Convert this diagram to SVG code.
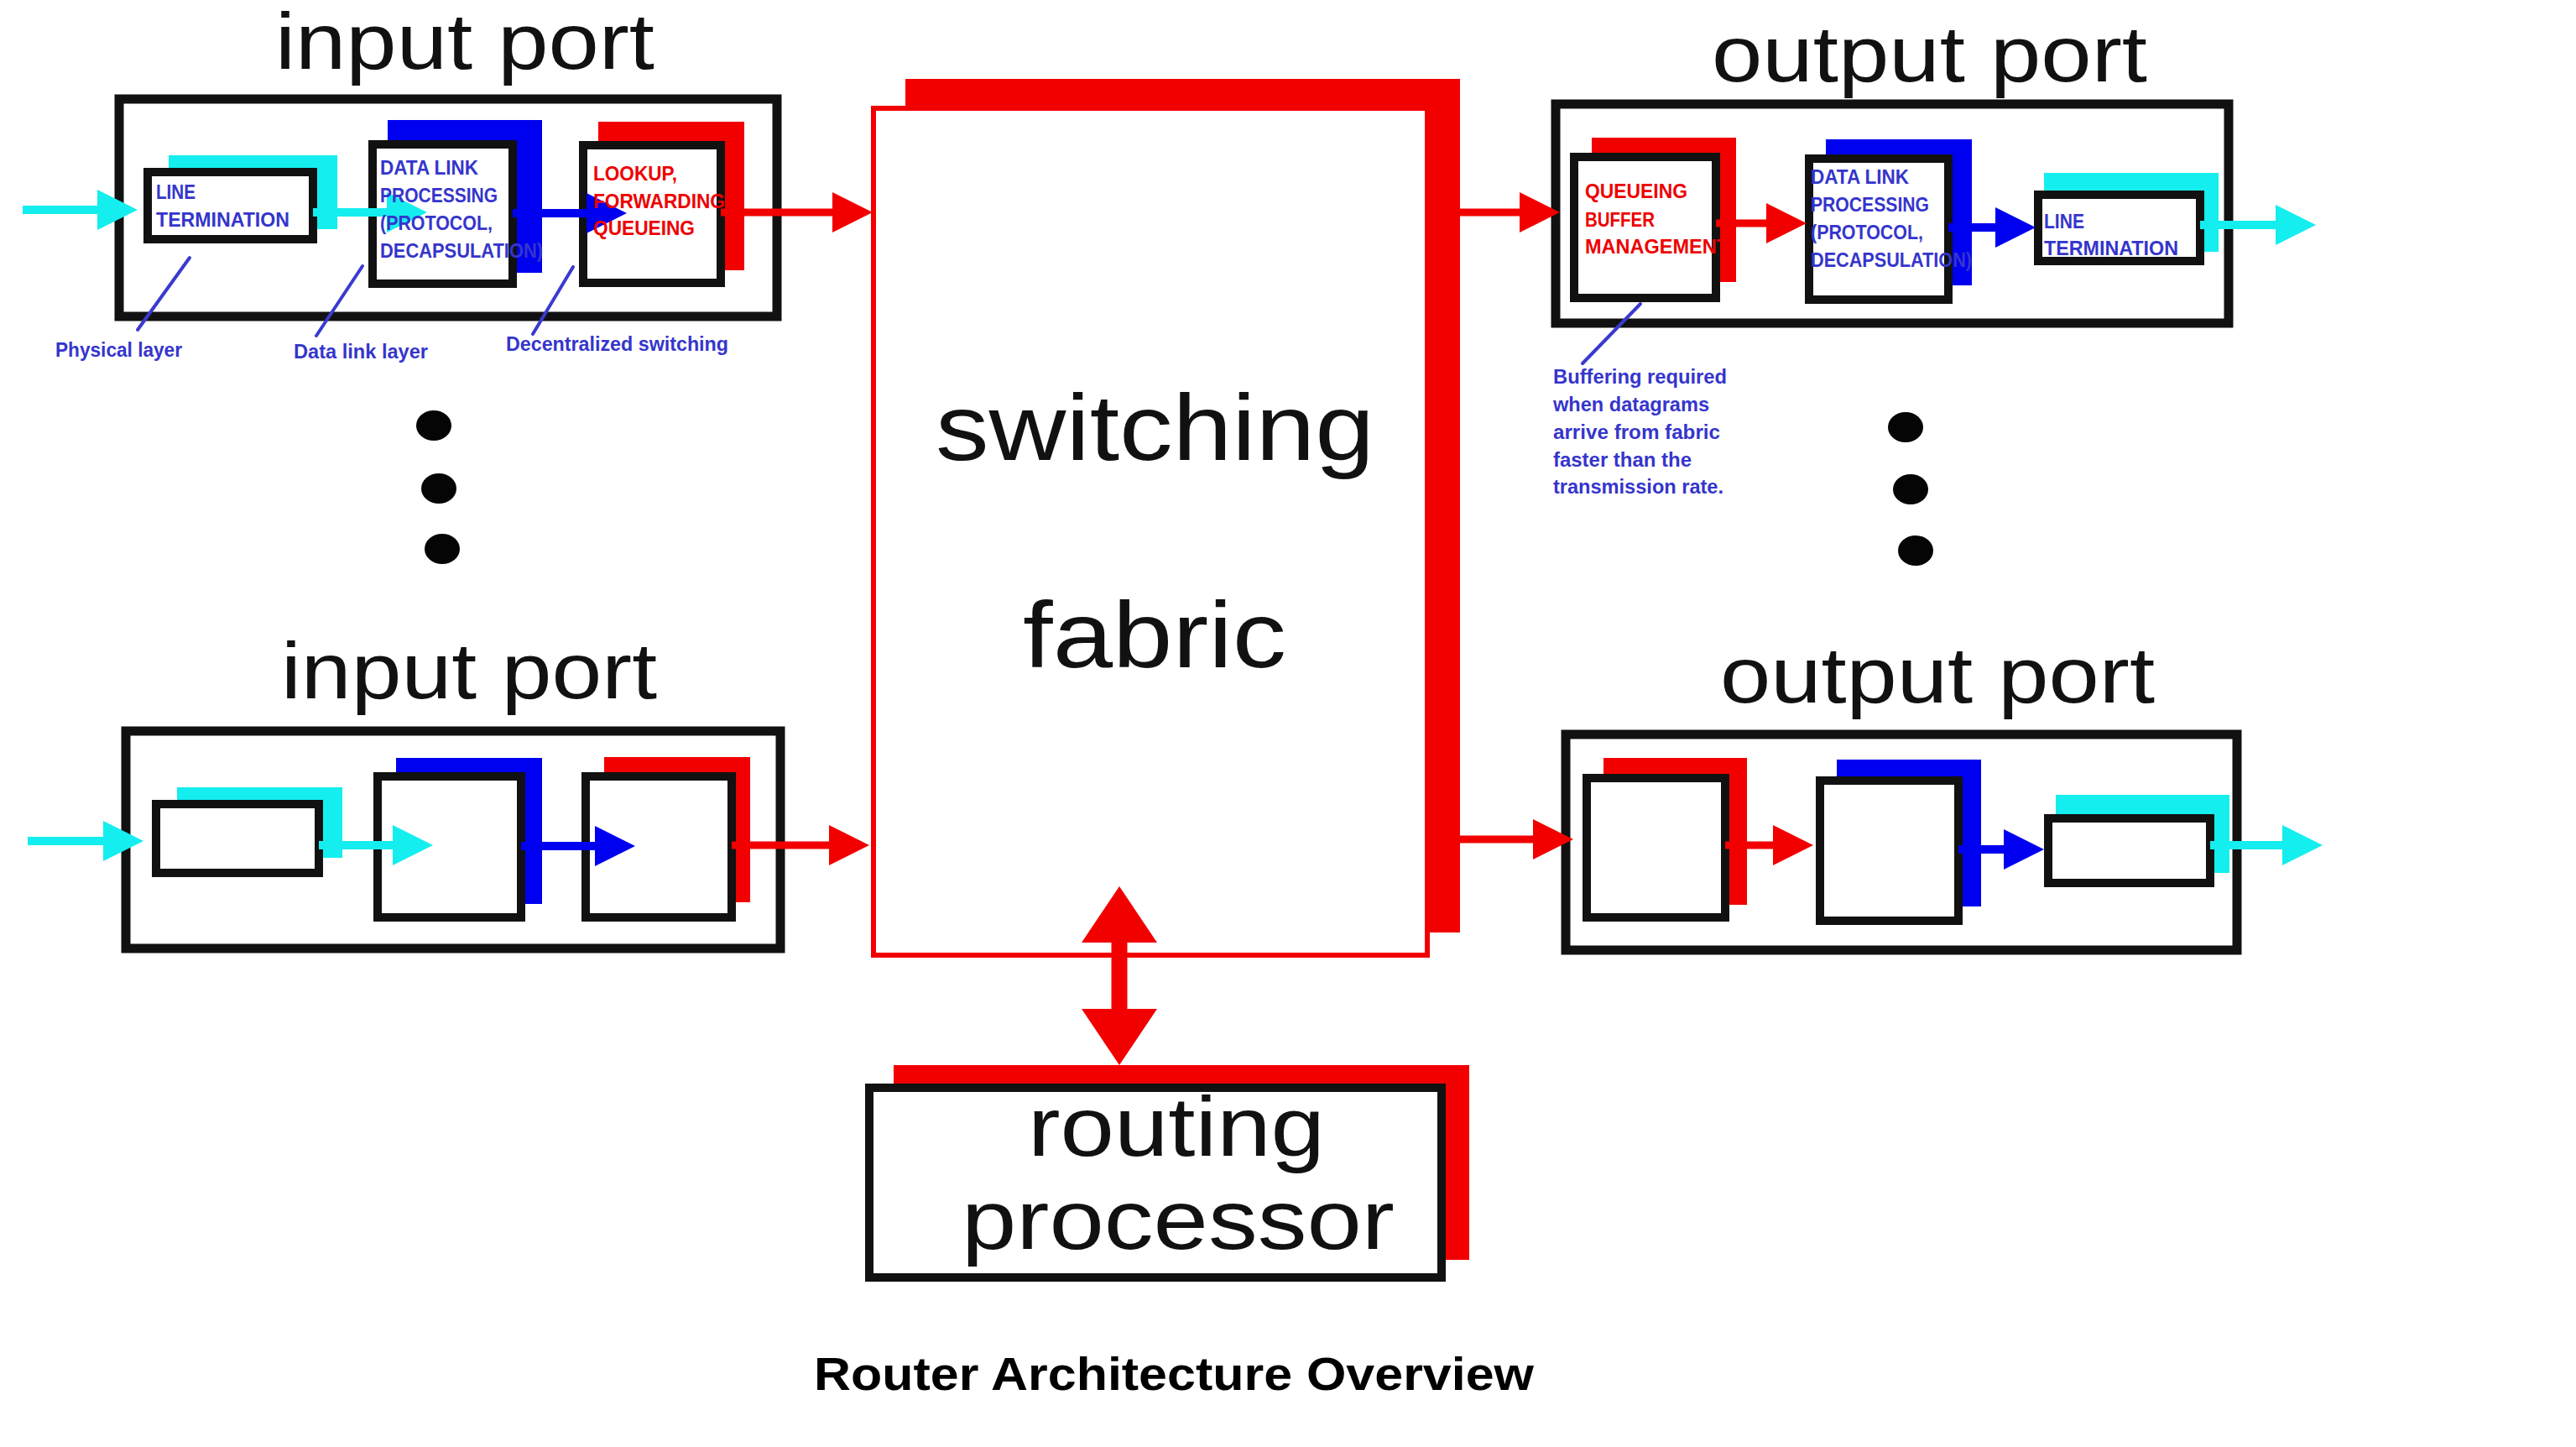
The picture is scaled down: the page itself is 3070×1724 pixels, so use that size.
<svg xmlns="http://www.w3.org/2000/svg" width="3070" height="1724" viewBox="0 0 3070 1724">
<style>
.bg{fill:#ffffff}
.box{fill:#ffffff;stroke:#111111;stroke-width:10}
.outer{fill:#ffffff;stroke:#111111;stroke-width:11}
.sh-c{fill:#14eeee}
.sh-b{fill:#0000f0}
.sh-r{fill:#f20000}
.big{font-family:"Liberation Sans",Arial,sans-serif;fill:#111111}
.lbl{font-family:"Liberation Sans",Arial,sans-serif;font-weight:bold;font-size:23px}
.lb{fill:#3535cc}
.lr{fill:#ee0000}
.ann{stroke:#3a3ad0;stroke-width:4;fill:none;stroke-linecap:round}
.ac{stroke:#14eeee;stroke-width:10;fill:none}
.ab{stroke:#0000f0;stroke-width:10;fill:none}
.ar{stroke:#f20000;stroke-width:9;fill:none}
.dot{fill:#050505}
.title{font-family:"Liberation Sans",Arial,sans-serif;font-weight:bold;font-size:56px;fill:#000000}
</style>
<defs>
<marker id="hc" markerUnits="userSpaceOnUse" viewBox="0 0 48 48" refX="0" refY="24" markerWidth="48" markerHeight="48" orient="auto"><path d="M0,0 L48,24 L0,48 z" fill="#14eeee"/></marker>
<marker id="hb" markerUnits="userSpaceOnUse" viewBox="0 0 48 48" refX="0" refY="24" markerWidth="48" markerHeight="48" orient="auto"><path d="M0,0 L48,24 L0,48 z" fill="#0000f0"/></marker>
<marker id="hr" markerUnits="userSpaceOnUse" viewBox="0 0 48 48" refX="0" refY="24" markerWidth="48" markerHeight="48" orient="auto"><path d="M0,0 L48,24 L0,48 z" fill="#f20000"/></marker>
<marker id="hbig" markerUnits="userSpaceOnUse" viewBox="0 0 67 90" refX="0" refY="45" markerWidth="67" markerHeight="90" orient="auto-start-reverse"><path d="M0,0 L67,45 L0,90 z" fill="#f20000"/></marker>
</defs>
<rect class="bg" x="0" y="0" width="3070" height="1724"/>

<!-- input port (top) -->
<g id="input-port-1">
<text class="big" x="328" y="82" font-size="94" textLength="452" lengthAdjust="spacingAndGlyphs">input port</text>
<rect class="outer" x="142" y="118" width="784" height="259"/>
<g id="in1-line-termination"><rect class="sh-c" x="201" y="185" width="201" height="88"/><rect class="box" x="176" y="205" width="197" height="80"/></g>
<g id="in1-data-link"><rect class="sh-b" x="462" y="143" width="184" height="182"/><rect class="box" x="444" y="172" width="167" height="166"/></g>
<g id="in1-lookup"><rect class="sh-r" x="713" y="145" width="174" height="177"/><rect class="box" x="695" y="173" width="164" height="164"/></g>
</g>

<!-- input port (bottom) -->
<g id="input-port-2">
<text class="big" x="335" y="832" font-size="94" textLength="448" lengthAdjust="spacingAndGlyphs">input port</text>
<rect class="outer" x="150" y="871" width="780" height="259"/>
<g id="in2-line-termination"><rect class="sh-c" x="211" y="938" width="197" height="84"/><rect class="box" x="186" y="958" width="194" height="82"/></g>
<g id="in2-data-link"><rect class="sh-b" x="472" y="903" width="174" height="174"/><rect class="box" x="450" y="925" width="171" height="168"/></g>
<g id="in2-lookup"><rect class="sh-r" x="720" y="902" width="174" height="173"/><rect class="box" x="698" y="925" width="174" height="168"/></g>
</g>

<!-- output port (top) -->
<g id="output-port-1">
<text class="big" x="2040" y="97" font-size="94" textLength="519" lengthAdjust="spacingAndGlyphs">output port</text>
<rect class="outer" x="1854" y="124" width="802" height="261"/>
<g id="out1-queueing"><rect class="sh-r" x="1897" y="164" width="172" height="172"/><rect class="box" x="1876" y="187" width="169" height="168"/></g>
<g id="out1-data-link"><rect class="sh-b" x="2176" y="166" width="174" height="174"/><rect class="box" x="2156" y="189" width="166" height="168"/></g>
<g id="out1-line-termination"><rect class="sh-c" x="2436" y="206" width="208" height="94"/><rect class="box" x="2429" y="232" width="193" height="79"/></g>
</g>

<!-- output port (bottom) -->
<g id="output-port-2">
<text class="big" x="2050" y="837" font-size="94" textLength="518" lengthAdjust="spacingAndGlyphs">output port</text>
<rect class="outer" x="1866" y="875" width="800" height="257"/>
<g id="out2-queueing"><rect class="sh-r" x="1911" y="903" width="171" height="175"/><rect class="box" x="1891" y="927" width="165" height="166"/></g>
<g id="out2-data-link"><rect class="sh-b" x="2189" y="905" width="172" height="175"/><rect class="box" x="2169" y="930" width="165" height="167"/></g>
<g id="out2-line-termination"><rect class="sh-c" x="2450" y="947" width="207" height="93"/><rect class="box" x="2441" y="975" width="193" height="77"/></g>
</g>

<!-- switching fabric -->
<g id="switching-fabric">
<rect class="sh-r" x="1079" y="94" width="661" height="1017"/>
<rect x="1041" y="129" width="660" height="1009" fill="#ffffff" stroke="#f20000" stroke-width="6"/>
<text class="big" x="1115" y="548" font-size="112" textLength="523" lengthAdjust="spacingAndGlyphs">switching</text>
<text class="big" x="1219" y="795" font-size="112" textLength="314" lengthAdjust="spacingAndGlyphs">fabric</text>
</g>

<!-- routing processor -->
<g id="routing-processor">
<rect class="sh-r" x="1065" y="1269" width="686" height="232"/>
<rect class="box" x="1036" y="1296" width="682" height="226"/>
<text class="big" x="1225" y="1377" font-size="100" textLength="354" lengthAdjust="spacingAndGlyphs">routing</text>
<text class="big" x="1146" y="1488" font-size="100" textLength="516" lengthAdjust="spacingAndGlyphs">processor</text>
</g>

<!-- ellipsis dots -->
<g id="dots-left"><ellipse class="dot" cx="517" cy="507" rx="21" ry="18"/><ellipse class="dot" cx="523" cy="582" rx="21" ry="18"/><ellipse class="dot" cx="527" cy="654" rx="21" ry="18"/></g>
<g id="dots-right"><ellipse class="dot" cx="2271" cy="509" rx="21" ry="18"/><ellipse class="dot" cx="2277" cy="583" rx="21" ry="18"/><ellipse class="dot" cx="2283" cy="656" rx="21" ry="18"/></g>

<!-- connectors -->
<g id="connectors">
<line class="ac" x1="27" y1="250" x2="116" y2="250" marker-end="url(#hc)"/>
<line class="ac" x1="373" y1="253" x2="461" y2="253" marker-end="url(#hc)"/>
<line class="ab" x1="611" y1="254" x2="699" y2="254" marker-end="url(#hb)"/>
<line class="ar" x1="859" y1="253" x2="992" y2="253" marker-end="url(#hr)"/>

<line class="ac" x1="33" y1="1002" x2="123" y2="1002" marker-end="url(#hc)"/>
<line class="ac" x1="380" y1="1007" x2="468" y2="1007" marker-end="url(#hc)"/>
<line class="ab" x1="621" y1="1008" x2="709" y2="1008" marker-end="url(#hb)"/>
<line class="ar" x1="872" y1="1007" x2="988" y2="1007" marker-end="url(#hr)"/>

<line class="ar" x1="1740" y1="253" x2="1811" y2="253" marker-end="url(#hr)"/>
<line class="ar" x1="2045" y1="266" x2="2105" y2="266" marker-end="url(#hr)"/>
<line class="ab" x1="2322" y1="271" x2="2378" y2="271" marker-end="url(#hb)"/>
<line class="ac" x1="2622" y1="268" x2="2712" y2="268" marker-end="url(#hc)"/>

<line class="ar" x1="1740" y1="1000" x2="1827" y2="1000" marker-end="url(#hr)"/>
<line class="ar" x1="2056" y1="1007" x2="2113" y2="1007" marker-end="url(#hr)"/>
<line class="ab" x1="2334" y1="1012" x2="2388" y2="1012" marker-end="url(#hb)"/>
<line class="ac" x1="2634" y1="1007" x2="2720" y2="1007" marker-end="url(#hc)"/>

<line x1="1334" y1="1123" x2="1334" y2="1202" stroke="#f20000" stroke-width="19" marker-start="url(#hbig)" marker-end="url(#hbig)"/>

<line class="ann" x1="226" y1="307" x2="164" y2="393"/>
<line class="ann" x1="432" y1="317" x2="377" y2="400"/>
<line class="ann" x1="683" y1="318" x2="635" y2="398"/>
<line class="ann" x1="1955" y1="362" x2="1886" y2="433"/>
</g>

<!-- labels -->
<g id="labels-in1">
<text class="lbl lb" x="186" y="237" textLength="47" lengthAdjust="spacingAndGlyphs">LINE</text>
<text class="lbl lb" x="186" y="270" textLength="159" lengthAdjust="spacingAndGlyphs">TERMINATION</text>
<text class="lbl lb" x="453" y="208" textLength="117" lengthAdjust="spacingAndGlyphs">DATA LINK</text>
<text class="lbl lb" x="453" y="241" textLength="140" lengthAdjust="spacingAndGlyphs">PROCESSING</text>
<text class="lbl lb" x="453" y="274" textLength="134" lengthAdjust="spacingAndGlyphs">(PROTOCOL,</text>
<text class="lbl lb" x="453" y="307" textLength="194" lengthAdjust="spacingAndGlyphs">DECAPSULATION)</text>
<text class="lbl lr" x="707" y="215" textLength="100" lengthAdjust="spacingAndGlyphs">LOOKUP,</text>
<text class="lbl lr" x="707" y="248" textLength="157" lengthAdjust="spacingAndGlyphs">FORWARDING</text>
<text class="lbl lr" x="707" y="280" textLength="121" lengthAdjust="spacingAndGlyphs">QUEUEING</text>
</g>
<g id="labels-out1">
<text class="lbl lr" x="1889" y="236" textLength="122" lengthAdjust="spacingAndGlyphs">QUEUEING</text>
<text class="lbl lr" x="1889" y="270" textLength="83" lengthAdjust="spacingAndGlyphs">BUFFER</text>
<text class="lbl lr" x="1889" y="302" textLength="171" lengthAdjust="spacingAndGlyphs">MANAGEMENT</text>
<text class="lbl lb" x="2158" y="219" textLength="117" lengthAdjust="spacingAndGlyphs">DATA LINK</text>
<text class="lbl lb" x="2158" y="252" textLength="141" lengthAdjust="spacingAndGlyphs">PROCESSING</text>
<text class="lbl lb" x="2158" y="285" textLength="134" lengthAdjust="spacingAndGlyphs">(PROTOCOL,</text>
<text class="lbl lb" x="2158" y="318" textLength="192" lengthAdjust="spacingAndGlyphs">DECAPSULATION)</text>
<text class="lbl lb" x="2436" y="272" textLength="48" lengthAdjust="spacingAndGlyphs">LINE</text>
<text class="lbl lb" x="2436" y="304" textLength="160" lengthAdjust="spacingAndGlyphs">TERMINATION</text>
</g>
<g id="annotations">
<text class="lbl lb" x="66" y="425" textLength="151" lengthAdjust="spacingAndGlyphs">Physical layer</text>
<text class="lbl lb" x="350" y="427" textLength="160" lengthAdjust="spacingAndGlyphs">Data link layer</text>
<text class="lbl lb" x="603" y="418" textLength="265" lengthAdjust="spacingAndGlyphs">Decentralized switching</text>
<text class="lbl lb" x="1851" y="457" textLength="207" lengthAdjust="spacingAndGlyphs">Buffering required</text>
<text class="lbl lb" x="1851" y="490" textLength="186" lengthAdjust="spacingAndGlyphs">when datagrams</text>
<text class="lbl lb" x="1851" y="523" textLength="199" lengthAdjust="spacingAndGlyphs">arrive from fabric</text>
<text class="lbl lb" x="1851" y="556" textLength="165" lengthAdjust="spacingAndGlyphs">faster than the</text>
<text class="lbl lb" x="1851" y="588" textLength="203" lengthAdjust="spacingAndGlyphs">transmission rate.</text>
</g>
<g id="title">
<text class="title" x="970" y="1656" textLength="858" lengthAdjust="spacingAndGlyphs">Router Architecture Overview</text>
</g>
</svg>
